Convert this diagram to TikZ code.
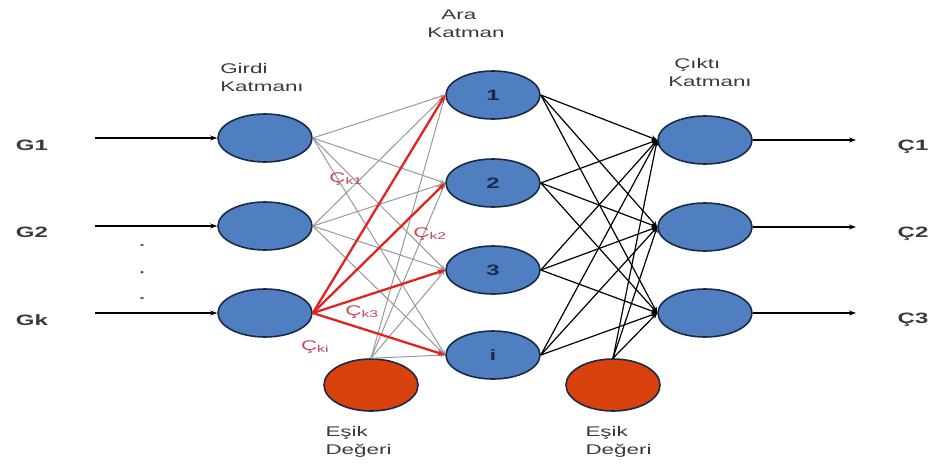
\documentclass[tikz,border=0pt]{standalone}
\usepackage{fontspec}
\setmainfont{Liberation Sans}
\newfontfamily\widesf[FakeStretch=1.6]{Liberation Sans}
\usetikzlibrary{shapes.geometric,arrows.meta}

\definecolor{nblue}{HTML}{4F7FC0}
\definecolor{nedge}{HTML}{1A2A48}
\definecolor{bred}{HTML}{D8400C}
\definecolor{wred}{HTML}{E02424}
\definecolor{lblred}{HTML}{C84858}
\definecolor{wgray}{HTML}{989898}
\definecolor{txtgray}{HTML}{3A3A3A}

\begin{document}
\begin{tikzpicture}[x=1pt,y=-1pt,
  neuron/.style={ellipse, draw=nedge, line width=1.6pt, fill=nblue,
    minimum width=94pt, minimum height=48pt, inner sep=0pt,
    font=\widesf\fontsize{15}{15}\selectfont\bfseries, text=nedge},
  biasnode/.style={neuron, fill=bred, minimum height=52pt},
  inarrow/.style={draw=black, line width=1.5pt, -{Stealth[length=7pt,width=5pt]}},
  graylink/.style={draw=wgray, line width=1pt, -{Stealth[length=5pt,width=4pt]}},
  redlink/.style={draw=wred, line width=2.3pt, -{Stealth[length=8pt,width=6pt]}},
  blacklink/.style={draw=black, line width=1.2pt, -{Stealth[length=6pt,width=5pt]}},
  iolabel/.style={font=\widesf\fontsize{15}{15}\selectfont\bfseries, text=txtgray},
  layertitle/.style={font=\widesf\fontsize{14}{18}\selectfont, text=txtgray, align=left},
  wlabel/.style={font=\widesf\fontsize{14}{14}\selectfont, text=lblred}
]
\useasboundingbox (0,0) rectangle (936,469);

% input layer
\node[neuron] (i1) at (265,138) {};
\node[neuron] (i2) at (265,226) {};
\node[neuron] (ik) at (265,313) {};

% hidden layer
\node[neuron] (h1) at (493,95) {1};
\node[neuron] (h2) at (493,183) {2};
\node[neuron] (h3) at (493,270) {3};
\node[neuron] (hi) at (493,355) {i};

% output layer
\node[neuron] (o1) at (705,140) {};
\node[neuron] (o2) at (705,227) {};
\node[neuron] (o3) at (705,313) {};

% bias units
\node[biasnode] (b1) at (371,385) {};
\node[biasnode] (b2) at (613,385) {};

% incoming signals
\coordinate (g1s) at (95,138);
\coordinate (g2s) at (95,226);
\coordinate (gks) at (95,313);
\node[iolabel] (g1) at (32,145) {G1};
\node[iolabel] (g2) at (32,232) {G2};
\node[iolabel] (gk) at (32,320) {Gk};
\draw[inarrow] (g1s) -- (i1.west);
\draw[inarrow] (g2s) -- (i2.west);
\draw[inarrow] (gks) -- (ik.west);
\fill[txtgray] (142,245) ellipse (2pt and 0.8pt) (142,272) circle (1.5pt) (142,298) ellipse (2pt and 0.8pt);

% outgoing signals
\coordinate (c1e) at (856,140);
\coordinate (c2e) at (856,227);
\coordinate (c3e) at (856,313);
\node[iolabel] (c1) at (913,147) {Ç1};
\node[iolabel] (c2) at (913,234) {Ç2};
\node[iolabel] (c3) at (913,320) {Ç3};
\draw[inarrow] (o1.east) -- (c1e);
\draw[inarrow] (o2.east) -- (c2e);
\draw[inarrow] (o3.east) -- (c3e);

% input -> hidden weights
\foreach \s in {i1,i2,ik}
  \foreach \t in {h1,h2,h3,hi}
    \draw[graylink] (\s.east) -- (\t.west);
\foreach \t in {h1,h2,h3,hi}
  \draw[graylink] (b1.north) -- (\t.west);
\foreach \t in {h1,h2,h3,hi}
  \draw[redlink] (ik.east) -- (\t.west);

% hidden -> output weights
\foreach \s in {h1,h2,h3,hi}
  \foreach \t in {o1,o2,o3}
    \draw[blacklink] (\s.east) -- (\t.west);
\foreach \t in {o1,o2,o3}
  \draw[blacklink] (b2.north) -- (\t.west);

% weight labels
\node[wlabel] (wk1) at (346,179) {Ç\textsubscript{k1}};
\node[wlabel] (wk2) at (430,234) {Ç\textsubscript{k2}};
\node[wlabel] (wk3) at (362,312) {Ç\textsubscript{k3}};
\node[wlabel] (wki) at (315,347) {Ç\textsubscript{ki}};

% layer titles
\node[layertitle] (tin) at (262,77) {Girdi\\Katmanı};
\node[layertitle] (thid) at (466,24) {\hspace*{14pt}Ara\\Katman};
\node[layertitle] (tout) at (710,72) {\hspace*{6pt}Çıktı\\Katmanı};
\node[layertitle, anchor=west] (tb1) at (322,442) {Eşik\\Değeri};
\node[layertitle, anchor=west] (tb2) at (582,442) {Eşik\\Değeri};
\end{tikzpicture}
\end{document}
